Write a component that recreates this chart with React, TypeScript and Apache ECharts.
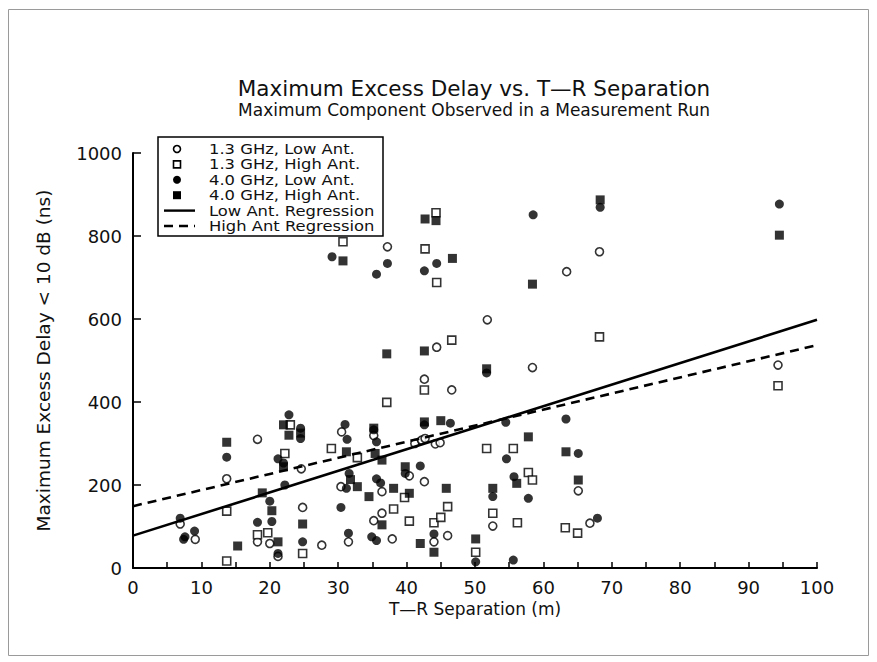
import React, { useEffect, useRef } from "react";
import * as echarts from "echarts";

const titleText = "Maximum Excess Delay vs. T\u2014R Separation";
const subtitleText = "Maximum Component Observed in a Measurement Run";
const xName = "T\u2014R Separation (m)";
const yName = "Maximum Excess Delay < 10 dB (ns)";

const seriesNames = [
  "1.3 GHz, Low Ant.",
  "1.3 GHz, High Ant.",
  "4.0 GHz, Low Ant.",
  "4.0 GHz, High Ant.",
  "Low Ant. Regression",
  "High Ant Regression",
];

// 1.3 GHz, Low Ant. (open circles)
const low13: [number, number][] = [
  [6.9, 106], [9.1, 69], [13.7, 215], [18.2, 310], [18.2, 63], [20.0, 59],
  [21.2, 28], [24.6, 239], [24.8, 146], [27.6, 55], [30.4, 196], [30.5, 328],
  [31.5, 63], [35.2, 114], [35.2, 319], [36.4, 132], [36.4, 184], [37.9, 70],
  [37.2, 774], [40.4, 222], [41.2, 300], [42.2, 308], [42.7, 312], [44.2, 299],
  [44.9, 302], [42.6, 208], [42.6, 455], [44.0, 63], [44.4, 532], [46.0, 78],
  [46.6, 429], [51.8, 598], [52.6, 101], [58.4, 483], [63.4, 714], [65.1, 186],
  [66.8, 108], [68.2, 762], [94.3, 489],
];

// 1.3 GHz, High Ant. (open squares)
const high13: [number, number][] = [
  [13.7, 137], [13.7, 17], [18.2, 80], [19.7, 85], [22.2, 276], [23.0, 345],
  [24.8, 35], [29.0, 288], [32.8, 266], [30.7, 786], [37.1, 399], [38.1, 142],
  [39.7, 170], [40.4, 113], [42.6, 429], [42.7, 769], [44.0, 109], [44.4, 688],
  [44.3, 856], [45.0, 122], [46.0, 148], [46.6, 549], [50.1, 38], [51.7, 288],
  [52.6, 132], [55.6, 288], [56.2, 109], [57.8, 230], [58.4, 212], [63.2, 97],
  [65.0, 84], [68.2, 557], [94.3, 439],
];

// 4.0 GHz, Low Ant. (filled circles)
const low40: [number, number][] = [
  [6.9, 120], [7.4, 69], [7.6, 75], [9.0, 89], [13.7, 267], [18.2, 110],
  [20.0, 161], [20.3, 112], [21.2, 35], [21.2, 263], [22.0, 253], [22.2, 200],
  [22.8, 369], [24.5, 337], [24.5, 312], [24.8, 63], [29.1, 750], [30.4, 146],
  [31.0, 346], [31.3, 310], [31.2, 192], [31.6, 228], [31.5, 84], [34.9, 75],
  [35.6, 66], [35.6, 708], [35.6, 304], [35.2, 333], [35.6, 215], [36.2, 205],
  [37.2, 734], [39.8, 228], [42.0, 246], [42.6, 716], [42.6, 345], [44.0, 82],
  [44.4, 734], [46.4, 349], [50.1, 15], [51.7, 470], [52.6, 172], [54.5, 351],
  [54.6, 263], [55.6, 19], [55.7, 220], [57.8, 168], [58.5, 851], [63.3, 359],
  [65.1, 276], [67.9, 120], [68.3, 869], [94.5, 877],
];

// 4.0 GHz, High Ant. (filled squares)
const high40: [number, number][] = [
  [13.7, 303], [15.3, 53], [18.9, 181], [20.3, 138], [21.2, 63], [22.0, 345],
  [22.0, 244], [22.8, 320], [24.5, 325], [24.8, 106], [30.7, 740], [31.2, 280],
  [31.8, 213], [32.8, 196], [34.5, 172], [35.2, 337], [35.4, 276], [36.4, 260],
  [36.4, 104], [37.1, 516], [38.1, 192], [39.8, 244], [40.4, 180], [42.0, 59],
  [42.6, 523], [42.7, 841], [42.6, 352], [44.0, 38], [44.3, 837], [45.0, 355],
  [45.8, 192], [46.7, 746], [50.1, 70], [51.7, 480], [52.6, 192], [56.1, 204],
  [57.8, 316], [58.4, 684], [63.3, 280], [65.1, 212], [68.3, 887], [94.5, 802],
];

// Regression lines (end points)
const lowRegression: [number, number][] = [[0, 78], [100, 598]];
const highRegression: [number, number][] = [[0, 149], [100, 537]];

const FONT = "DejaVu Sans";

function buildLegend() {
  const boxX = 158;
  const boxY = 137;
  const rowY0 = 149;
  const rowStep = 15.4;
  const textX = 209;
  const symX = 177;
  const els: any[] = [
    {
      type: "rect",
      shape: { x: boxX, y: boxY, width: 225, height: 99 },
      style: { fill: "#fff", stroke: "#000", lineWidth: 1.5 },
      z: 100,
    },
  ];
  const open = { fill: "#fff", stroke: "#000", lineWidth: 1.6 };
  const filled = { fill: "#000", stroke: "#000", lineWidth: 0 };
  seriesNames.forEach((name, i) => {
    const cy = rowY0 + i * rowStep;
    if (i === 0) els.push({ type: "circle", shape: { cx: symX, cy, r: 3.5 }, style: open, z: 101 });
    if (i === 1) els.push({ type: "rect", shape: { x: symX - 3.5, y: cy - 3.5, width: 7, height: 7 }, style: open, z: 101 });
    if (i === 2) els.push({ type: "circle", shape: { cx: symX, cy, r: 4 }, style: filled, z: 101 });
    if (i === 3) els.push({ type: "rect", shape: { x: symX - 4, y: cy - 4, width: 8, height: 8 }, style: filled, z: 101 });
    if (i === 4)
      els.push({ type: "line", shape: { x1: 164, y1: cy, x2: 195, y2: cy }, style: { stroke: "#000", lineWidth: 2.4 }, z: 101 });
    if (i === 5)
      els.push({
        type: "line",
        shape: { x1: 164, y1: cy, x2: 195, y2: cy },
        style: { stroke: "#000", lineWidth: 2.4, lineDash: [9, 6] },
        z: 101,
      });
    els.push({
      type: "text",
      x: textX,
      y: cy + 0.5,
      scaleX: 1.17,
      style: {
        text: name,
        fontFamily: FONT,
        fontSize: 14,
        fill: "#111",
        textAlign: "left",
        textVerticalAlign: "middle",
      },
      z: 101,
    });
  });
  return els;
}

export default function App() {
  const ref = useRef<HTMLDivElement>(null);
  useEffect(() => {
    if (!ref.current) return;
    const chart = echarts.init(ref.current, undefined, { renderer: "svg" });
    const openStyle = { color: "#ffffff", borderColor: "#000000", borderWidth: 1.6 };
    const fillStyle = { color: "#000000", borderColor: "#000000", borderWidth: 0 };
    chart.setOption({
      animation: false,
      backgroundColor: "#ffffff",
      textStyle: { fontFamily: FONT, color: "#000" },
      graphic: [
        {
          type: "rect",
          shape: { x: 8.5, y: 9.5, width: 860, height: 646 },
          style: { fill: "none", stroke: "#9a9a9a", lineWidth: 1 },
          silent: true,
        },
        {
          type: "text",
          x: 474,
          y: 88,
          style: {
            text: titleText,
            fontFamily: FONT,
            fontSize: 21.5,
            fill: "#111",
            textAlign: "center",
            textVerticalAlign: "middle",
          },
        },
        {
          type: "text",
          x: 474,
          y: 110,
          style: {
            text: subtitleText,
            fontFamily: FONT,
            fontSize: 17,
            fill: "#111",
            textAlign: "center",
            textVerticalAlign: "middle",
          },
        },
        ...buildLegend(),
      ],
      grid: { left: 133, right: 60, top: 153, bottom: 94 },
      xAxis: {
        type: "value",
        min: 0,
        max: 100,
        interval: 10,
        name: xName,
        nameLocation: "middle",
        nameGap: 32,
        nameTextStyle: { fontFamily: FONT, fontSize: 17, color: "#111" },
        axisLine: { show: true, lineStyle: { color: "#000", width: 2 } },
        axisTick: { show: true, inside: true, length: 6, lineStyle: { color: "#000", width: 1.5 } },
        minorTick: { show: true, splitNumber: 2, length: 6, lineStyle: { color: "#000", width: 1.5 } },
        axisLabel: { fontFamily: FONT, fontSize: 18, color: "#111", margin: 10 },
        splitLine: { show: false },
      },
      yAxis: {
        type: "value",
        min: 0,
        max: 1000,
        interval: 200,
        name: yName,
        nameLocation: "middle",
        nameGap: 80,
        nameTextStyle: { fontFamily: FONT, fontSize: 18.5, color: "#111" },
        axisLine: { show: true, lineStyle: { color: "#000", width: 2 } },
        axisTick: { show: true, inside: true, length: 8, lineStyle: { color: "#000", width: 1.5 } },
        axisLabel: {
          fontFamily: FONT,
          fontSize: 18,
          color: "#111",
          margin: 11,
          formatter: (v: number) => String(v),
        },
        splitLine: { show: false },
      },
      series: [
        {
          name: seriesNames[0],
          type: "scatter",
          data: low13,
          symbol: "circle",
          symbolSize: 8,
          itemStyle: openStyle,
          z: 3,
        },
        {
          name: seriesNames[1],
          type: "scatter",
          data: high13,
          symbol: "rect",
          symbolSize: 8,
          itemStyle: openStyle,
          z: 3,
        },
        {
          name: seriesNames[2],
          type: "scatter",
          data: low40,
          symbol: "circle",
          symbolSize: 9,
          itemStyle: fillStyle,
          z: 4,
        },
        {
          name: seriesNames[3],
          type: "scatter",
          data: high40,
          symbol: "rect",
          symbolSize: 9,
          itemStyle: fillStyle,
          z: 4,
        },
        {
          name: seriesNames[4],
          type: "line",
          data: lowRegression,
          symbol: "none",
          lineStyle: { color: "#000", width: 2.6, type: "solid" },
          itemStyle: { color: "#000" },
          z: 5,
        },
        {
          name: seriesNames[5],
          type: "line",
          data: highRegression,
          symbol: "none",
          lineStyle: { color: "#000", width: 2.6, type: [9, 6] },
          itemStyle: { color: "#000" },
          z: 5,
        },
      ],
    });
    return () => chart.dispose();
  }, []);
  return (
    <div
      ref={ref}
      style={{ position: "fixed", left: 0, top: 0, width: 877, height: 662 }}
    />
  );
}
